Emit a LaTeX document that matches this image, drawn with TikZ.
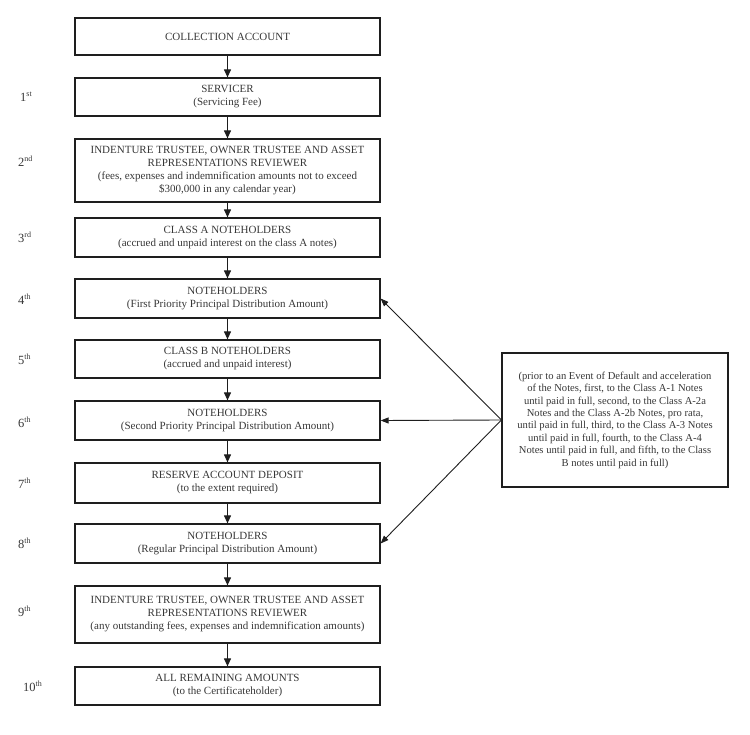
\documentclass[tikz,border=0pt]{standalone}
\usepackage{fontspec}
\setmainfont{Liberation Serif}
\usetikzlibrary{arrows.meta}
\definecolor{txtcol}{RGB}{55,55,55}
\definecolor{linecol}{RGB}{30,30,30}
\newcommand{\ordsup}[1]{\raisebox{5pt}{\fontsize{8}{8}\selectfont #1}}
\begin{document}
\begin{tikzpicture}[x=1pt,y=-1pt,
  box/.style={draw=linecol, line width=1.2pt, minimum width=305pt, align=center,
    inner sep=0pt, text=txtcol, font=\fontsize{11}{13}\selectfont},
  sidebox/.style={draw=linecol, line width=1.2pt, minimum width=226pt, minimum height=134pt,
    align=center, inner sep=0pt, text=txtcol, font=\fontsize{10.6}{12.4}\selectfont},
  rank/.style={anchor=base west, inner sep=0pt, text=txtcol, font=\fontsize{12.5}{14}\selectfont},
  flow/.style={draw=linecol, line width=1.1pt, -{Triangle[length=8pt,width=7pt]}},
  side/.style={draw=linecol, line width=0.9pt, -{Triangle[length=8pt,width=6pt]}}]
\useasboundingbox (0,0) rectangle (750,735);

\node[box, minimum height=37pt] (b0) at (227.5,36.5) {COLLECTION ACCOUNT};
\node[box, minimum height=38pt] (b1) at (227.5,97) {SERVICER\\(Servicing Fee)};
\node[box, minimum height=63pt] (b2) at (227.5,170.5) {INDENTURE TRUSTEE, OWNER TRUSTEE AND ASSET\\REPRESENTATIONS REVIEWER\\(fees, expenses and indemnification amounts not to exceed\\\$300,000 in any calendar year)};
\node[box, minimum height=39pt] (b3) at (227.5,237.5) {CLASS A NOTEHOLDERS\\(accrued and unpaid interest on the class A notes)};
\node[box, minimum height=39pt] (b4) at (227.5,298.5) {NOTEHOLDERS\\(First Priority Principal Distribution Amount)};
\node[box, minimum height=38pt] (b5) at (227.5,359) {CLASS B NOTEHOLDERS\\(accrued and unpaid interest)};
\node[box, minimum height=39pt] (b6) at (227.5,420.5) {NOTEHOLDERS\\(Second Priority Principal Distribution Amount)};
\node[box, minimum height=40pt] (b7) at (227.5,483) {RESERVE ACCOUNT DEPOSIT\\(to the extent required)};
\node[box, minimum height=39pt] (b8) at (227.5,543.5) {NOTEHOLDERS\\(Regular Principal Distribution Amount)};
\node[box, minimum height=57pt] (b9) at (227.5,614.5) {INDENTURE TRUSTEE, OWNER TRUSTEE AND ASSET\\REPRESENTATIONS REVIEWER\\(any outstanding fees, expenses and indemnification amounts)};
\node[box, minimum height=38pt] (b10) at (227.5,686) {ALL REMAINING AMOUNTS\\(to the Certificateholder)};

\node[sidebox] (rb) at (615,420) {(prior to an Event of Default and acceleration\\of the Notes, first, to the Class A-1 Notes\\until paid in full, second, to the Class A-2a\\Notes and the Class A-2b Notes, pro rata,\\until paid in full, third, to the Class A-3 Notes\\until paid in full, fourth, to the Class A-4\\Notes until paid in full, and fifth, to the Class\\B notes until paid in full)};

\node[rank] (r1) at (20,102) {1\ordsup{st}};
\node[rank] (r2) at (18,167) {2\ordsup{nd}};
\node[rank] (r3) at (18,243) {3\ordsup{rd}};
\node[rank] (r4) at (18,305) {4\ordsup{th}};
\node[rank] (r5) at (18,365) {5\ordsup{th}};
\node[rank] (r6) at (18,427) {6\ordsup{th}};
\node[rank] (r7) at (18,488) {7\ordsup{th}};
\node[rank] (r8) at (18,548) {8\ordsup{th}};
\node[rank] (r9) at (18,616) {9\ordsup{th}};
\node[rank] (r10) at (23,691) {10\ordsup{th}};

\foreach \a/\b in {b0/b1,b1/b2,b2/b3,b3/b4,b4/b5,b5/b6,b6/b7,b7/b8,b8/b9,b9/b10}
  \draw[flow] (\a.south) -- (\b.north);

\draw[side] (rb.west) -- (b4.east);
\draw[side] (rb.west) -- (b6.east);
\draw[side] (rb.west) -- (b8.east);
\end{tikzpicture}
\end{document}
